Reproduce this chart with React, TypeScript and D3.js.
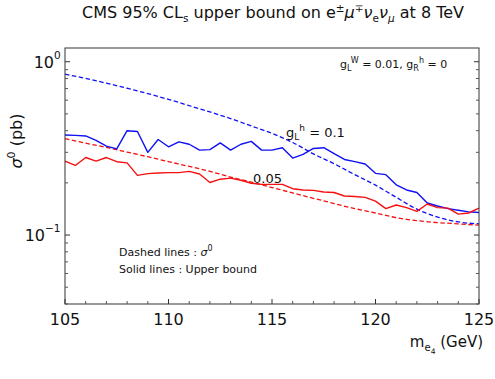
import * as d3 from "d3";

const W = 495;
const H = 379;
const margin = { top: 48, right: 16, bottom: 75, left: 65 };

// solid lines: CMS upper bound, sampled every 0.5 GeV
const massFine = [
  105, 105.5, 106, 106.5, 107, 107.5, 108, 108.5, 109, 109.5, 110, 110.5, 111, 111.5,
  112, 112.5, 113, 113.5, 114, 114.5, 115, 115.5, 116, 116.5, 117, 117.5, 118, 118.5,
  119, 119.5, 120, 120.5, 121, 121.5, 122, 122.5, 123, 123.5, 124, 124.5, 125,
];
const boundBlue = [
  0.378, 0.376, 0.373, 0.352, 0.326, 0.314, 0.4, 0.396, 0.3, 0.356, 0.323, 0.345, 0.334, 0.309,
  0.311, 0.34, 0.309, 0.334, 0.347, 0.309, 0.309, 0.319, 0.278, 0.292, 0.316, 0.319, 0.295, 0.273,
  0.265, 0.257, 0.227, 0.223, 0.195, 0.182, 0.176, 0.153, 0.147, 0.142, 0.139, 0.136, 0.135,
];
const boundRed = [
  0.267, 0.252, 0.28, 0.267, 0.28, 0.265, 0.261, 0.221, 0.226, 0.228, 0.229, 0.229, 0.233, 0.225,
  0.201, 0.21, 0.213, 0.207, 0.199, 0.196, 0.196, 0.196, 0.185, 0.182, 0.181, 0.177, 0.176, 0.168,
  0.167, 0.165, 0.157, 0.142, 0.149, 0.144, 0.137, 0.151, 0.144, 0.143, 0.132, 0.134, 0.143,
];

// dashed lines: predicted sigma^0
const massCoarse = [
  105, 106, 107, 108, 109, 110, 111, 112, 113, 114, 115, 116, 117, 118, 119, 120, 121, 122, 123, 124, 125,
];
const sigmaBlue = [
  0.848, 0.801, 0.752, 0.703, 0.655, 0.606, 0.558, 0.513, 0.47, 0.426, 0.386, 0.342, 0.294, 0.258,
  0.223, 0.194, 0.165, 0.141, 0.127, 0.119, 0.116,
];
const sigmaRed = [
  0.36, 0.339, 0.32, 0.301, 0.283, 0.265, 0.249, 0.233, 0.216, 0.202, 0.188, 0.175, 0.163, 0.152,
  0.142, 0.134, 0.126, 0.121, 0.118, 0.116, 0.114,
];

const xMajor = [105, 110, 115, 120, 125];
const yMajor = [1, 0.1];
const yMajorExp = ["0", "−1"];

const BLUE = "#1010f5";
const RED = "#f51010";
const FONT = "DejaVu Sans, sans-serif";

export default function App() {
  const x = d3.scaleLinear().domain([105, 125]).range([margin.left, W - margin.right]);
  const y = d3.scaleLog().domain([0.04, 1.2]).range([H - margin.bottom, margin.top]);

  const solid = d3
    .line<number>()
    .x((_, i) => x(massFine[i]))
    .y((d) => y(d));
  const dashed = d3
    .line<number>()
    .x((_, i) => x(massCoarse[i]))
    .y((d) => y(d))
    .curve(d3.curveMonotoneX);

  const xMinor = d3.range(105, 126, 1).filter((v) => !xMajor.includes(v));
  const yMinor = y.ticks(20).filter((v) => !yMajor.some((m) => Math.abs(m - v) < 1e-9));

  const left = margin.left;
  const right = W - margin.right;
  const top = margin.top;
  const bottom = H - margin.bottom;

  return (
    <div style={{ position: "fixed", left: 0, top: 0 }}>
      <svg width={W} height={H} style={{ display: "block", background: "#fff" }} fontFamily={FONT}>
        {/* title */}
        <text x={273} y={18} textAnchor="middle" fontSize={16} fill="#111">
          CMS 95% CL<tspan dy={4} fontSize={10.5}>s</tspan>
          <tspan dy={-4}> upper bound on e</tspan>
          <tspan dy={-6} fontSize={10.5}>±</tspan>
          <tspan dy={6} fontStyle="italic">μ</tspan>
          <tspan dy={-6} fontSize={10.5}>∓</tspan>
          <tspan dy={6} fontStyle="italic">ν</tspan>
          <tspan dy={4} fontSize={10.5}>e</tspan>
          <tspan dy={-4} fontStyle="italic">ν</tspan>
          <tspan dy={4} fontSize={10.5} fontStyle="italic">μ</tspan>
          <tspan dy={-4}> at 8 TeV</tspan>
        </text>

        {/* data */}
        <path d={dashed(sigmaBlue) ?? ""} fill="none" stroke={BLUE} strokeWidth={1.3} strokeDasharray="4.5,2.5" />
        <path d={dashed(sigmaRed) ?? ""} fill="none" stroke={RED} strokeWidth={1.3} strokeDasharray="4.5,2.5" />
        <path d={solid(boundBlue) ?? ""} fill="none" stroke={BLUE} strokeWidth={1.4} strokeLinejoin="round" />
        <path d={solid(boundRed) ?? ""} fill="none" stroke={RED} strokeWidth={1.4} strokeLinejoin="round" />

        {/* frame */}
        <rect x={left} y={top} width={right - left} height={bottom - top} fill="none" stroke="#333" strokeWidth={1} />

        {/* x ticks */}
        {xMajor.map((v) => (
          <g key={"xM" + v}>
            <line x1={x(v)} x2={x(v)} y1={bottom} y2={bottom - 5} stroke="#333" />
            <text x={x(v)} y={325} textAnchor="middle" fontSize={16} fill="#111">
              {v}
            </text>
          </g>
        ))}
        {xMinor.map((v) => (
          <line key={"xm" + v} x1={x(v)} x2={x(v)} y1={bottom} y2={bottom - 3} stroke="#555" />
        ))}

        {/* y ticks, both sides */}
        {yMajor.map((v, i) => (
          <g key={"yM" + v}>
            <line x1={left} x2={left + 5} y1={y(v)} y2={y(v)} stroke="#333" />
            <line x1={right} x2={right - 5} y1={y(v)} y2={y(v)} stroke="#333" />
            <text x={i === 0 ? 54 : 45} y={y(v) + 6} textAnchor="end" fontSize={16} fill="#111">
              10
            </text>
            <text x={i === 0 ? 54 : 45} y={y(v) - 3} fontSize={10.5} fill="#111">
              {yMajorExp[i]}
            </text>
          </g>
        ))}
        {yMinor.map((v) => (
          <g key={"ym" + v}>
            <line x1={left} x2={left + 3} y1={y(v)} y2={y(v)} stroke="#555" />
            <line x1={right} x2={right - 3} y1={y(v)} y2={y(v)} stroke="#555" />
          </g>
        ))}

        {/* axis labels */}
        <text transform="translate(22,141) rotate(-90)" textAnchor="middle" fontSize={16} fill="#111">
          <tspan fontStyle="italic">σ</tspan>
          <tspan dy={-7} fontSize={11}>0</tspan>
          <tspan dy={7}> (pb)</tspan>
        </text>
        <text x={483} y={347} textAnchor="end" fontSize={15} fill="#111">
          m<tspan dy={4} fontSize={10}>e</tspan>
          <tspan dy={3} fontSize={7.5}>4</tspan>
          <tspan dy={-7}> (GeV)</tspan>
        </text>

        {/* annotations */}
        <text x={340} y={68} fontSize={11} fill="#111">
          g<tspan dy={3} fontSize={8}>L</tspan>
          <tspan dy={-8} fontSize={8}>W</tspan>
          <tspan dy={5}> = 0.01, g</tspan>
          <tspan dy={3} fontSize={8}>R</tspan>
          <tspan dy={-8} fontSize={8}>h</tspan>
          <tspan dy={5}> = 0</tspan>
        </text>
        <text x={286} y={137} fontSize={13} fill="#111">
          g<tspan dy={3} fontSize={9}>L</tspan>
          <tspan dy={-9} fontSize={9}>h</tspan>
          <tspan dy={6}> = 0.1</tspan>
        </text>
        <text x={253} y={183} fontSize={13} fill="#111">
          0.05
        </text>
        <text x={119} y={256} fontSize={11} fill="#111">
          Dashed lines : <tspan fontStyle="italic">σ</tspan>
          <tspan dy={-5} fontSize={8}>0</tspan>
        </text>
        <text x={119} y={273} fontSize={11} fill="#111">
          Solid lines : Upper bound
        </text>
      </svg>
    </div>
  );
}
